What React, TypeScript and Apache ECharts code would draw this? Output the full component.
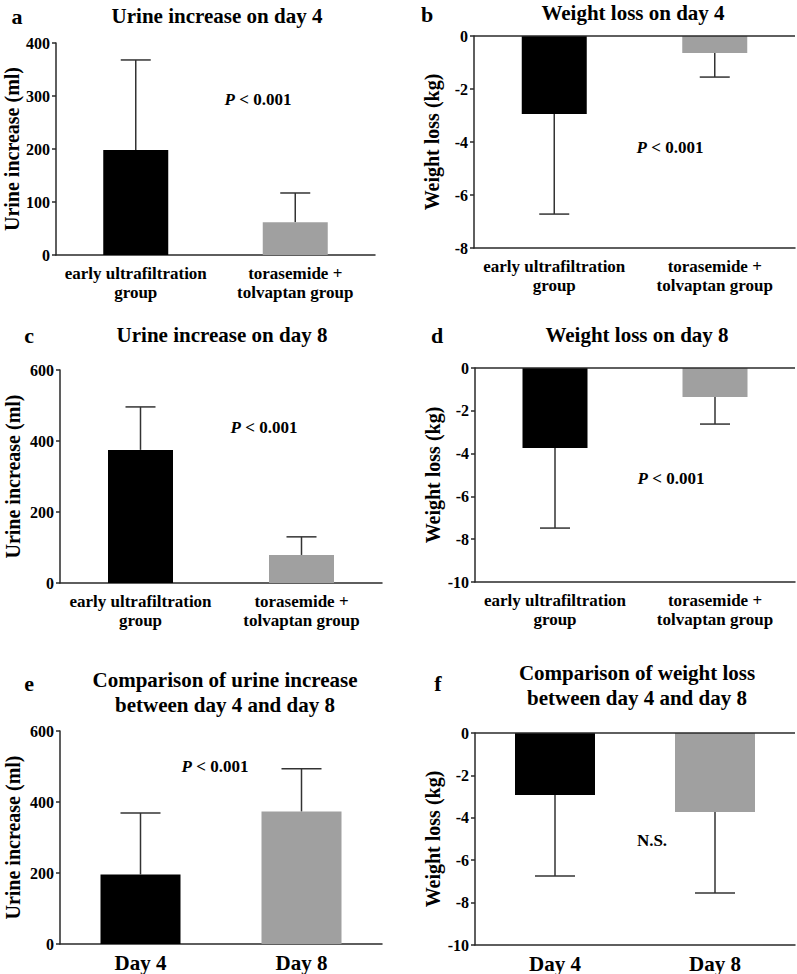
import React, { useEffect, useRef } from "react";
import * as echarts from "echarts";

// ---- data ----
const groupCats = ["early ultrafiltration\ngroup", "torasemide +\ntolvaptan group"];
const dayCats = ["Day 4", "Day 8"];

const urineDay4Mean = [198, 62];
const urineDay4Err = [368, 117];
const weightDay4Mean = [-2.94, -0.64];
const weightDay4Err = [-6.72, -1.55];
const urineDay8Mean = [375, 79];
const urineDay8Err = [496, 130];
const weightDay8Mean = [-3.74, -1.36];
const weightDay8Err = [-7.48, -2.62];
const urineCompMean = [196, 373];
const urineCompErr = [369, 494];
const weightCompMean = [-2.93, -3.73];
const weightCompErr = [-6.74, -7.55];

const barColors = ["#000000", "#a0a0a0"];

const panelTitles = [
  "Urine increase on day 4",
  "Weight loss on day 4",
  "Urine increase on day 8",
  "Weight loss on day 8",
  "Comparison of urine increase\nbetween day 4 and day 8",
  "Comparison of weight loss\nbetween day 4 and day 8",
];
const panelLetters = ["a", "b", "c", "d", "e", "f"];
const pLabels = ["P < 0.001", "P < 0.001", "P < 0.001", "P < 0.001", "P < 0.001", "N.S."];
const yNames = [
  "Urine increase (ml)",
  "Weight loss (kg)",
  "Urine increase (ml)",
  "Weight loss (kg)",
  "Urine increase (ml)",
  "Weight loss (kg)",
];

const FONT = "'Liberation Serif', 'Times New Roman', serif";
const AX = "#2a2a2a";

export default function App() {
  const ref = useRef<HTMLDivElement>(null);
  useEffect(() => {
    if (!ref.current) return;
    const chart = echarts.init(ref.current, null, { renderer: "svg" });

    const panels = [
      { cats: groupCats, mean: urineDay4Mean, err: urineDay4Err, min: 0, max: 400, interval: 100, neg: false, grid: { left: 56, width: 319, top: 43, height: 212 }, bw: 65, cap: 15, labelSize: 17, nameGap: 33 },
      { cats: groupCats, mean: weightDay4Mean, err: weightDay4Err, min: -8, max: 0, interval: 2, neg: true, grid: { left: 474, width: 321, top: 36, height: 212 }, bw: 65, cap: 15, labelSize: 17, nameGap: 32 },
      { cats: groupCats, mean: urineDay8Mean, err: urineDay8Err, min: 0, max: 600, interval: 200, neg: false, grid: { left: 60, width: 322, top: 370, height: 213 }, bw: 65, cap: 15, labelSize: 17, nameGap: 37 },
      { cats: groupCats, mean: weightDay8Mean, err: weightDay8Err, min: -10, max: 0, interval: 2, neg: true, grid: { left: 475, width: 320, top: 368, height: 214 }, bw: 65, cap: 15, labelSize: 17, nameGap: 32 },
      { cats: dayCats, mean: urineCompMean, err: urineCompErr, min: 0, max: 600, interval: 200, neg: false, grid: { left: 60, width: 322, top: 731, height: 213 }, bw: 80, cap: 20, labelSize: 21, nameGap: 37 },
      { cats: dayCats, mean: weightCompMean, err: weightCompErr, min: -10, max: 0, interval: 2, neg: true, grid: { left: 475, width: 320, top: 733, height: 212 }, bw: 80, cap: 20, labelSize: 21, nameGap: 32 },
    ];

    const grids: any[] = [];
    const xAxes: any[] = [];
    const yAxes: any[] = [];
    const series: any[] = [];

    panels.forEach((p, i) => {
      grids.push({ ...p.grid, containLabel: false });
      xAxes.push({
        type: "category",
        gridIndex: i,
        data: p.cats,
        position: "bottom",
        axisLine: { onZero: false, lineStyle: { color: AX, width: 1.5 } },
        axisTick: { alignWithLabel: true, length: 5, lineStyle: { color: AX, width: 1.5 } },
        axisLabel: {
          color: "#000",
          fontFamily: FONT,
          fontWeight: "bold",
          fontSize: p.labelSize,
          lineHeight: 19,
          margin: 9,
          interval: 0,
        },
      });
      yAxes.push({
        type: "value",
        gridIndex: i,
        min: p.min,
        max: p.max,
        interval: p.interval,
        name: yNames[i],
        nameLocation: "middle",
        nameGap: p.nameGap,
        nameTextStyle: { color: "#000", fontFamily: FONT, fontWeight: "bold", fontSize: 20 },
        splitLine: { show: false },
        axisLine: { show: true, lineStyle: { color: AX, width: 1.5 } },
        axisTick: { show: true, length: 4, lineStyle: { color: AX, width: 1.5 } },
        axisLabel: { color: "#000", fontFamily: FONT, fontWeight: "bold", fontSize: 16, margin: 6 },
      });
      series.push({
        type: "bar",
        xAxisIndex: i,
        yAxisIndex: i,
        barWidth: p.bw,
        data: p.mean.map((v, k) => ({ value: v, itemStyle: { color: barColors[k] } })),
        markLine: p.neg
          ? {
              silent: true,
              symbol: "none",
              label: { show: false },
              lineStyle: { color: AX, width: 1.5, type: "solid" },
              data: [{ yAxis: 0 }],
            }
          : undefined,
      });
      const cap = p.cap;
      series.push({
        type: "custom",
        xAxisIndex: i,
        yAxisIndex: i,
        data: p.mean.map((m, k) => [k, m, p.err[k]]),
        renderItem: (params: any, api: any) => {
          const x = api.value(0);
          const p0 = api.coord([x, api.value(1)]);
          const p1 = api.coord([x, api.value(2)]);
          const st = { stroke: "#333", lineWidth: 1.5 };
          return {
            type: "group",
            children: [
              { type: "line", shape: { x1: p0[0], y1: p0[1], x2: p1[0], y2: p1[1] }, style: st },
              { type: "line", shape: { x1: p1[0] - cap, y1: p1[1], x2: p1[0] + cap, y2: p1[1] }, style: st },
            ],
          };
        },
      });
    });

    const titlePos = [
      [217, 16],
      [633, 13],
      [222, 335],
      [637, 335],
      [225, 692],
      [637, 685],
    ];
    const letterPos = [
      [17, 16],
      [427, 14],
      [29, 335],
      [437, 335],
      [29, 683],
      [438, 683],
    ];
    const pPos = [
      [258, 99],
      [670, 147],
      [264, 427],
      [671, 478],
      [215, 766],
      [652, 840],
    ];

    const graphics: any[] = [];
    panels.forEach((_, i) => {
      graphics.push({
        type: "text",
        x: titlePos[i][0],
        y: titlePos[i][1],
        style: {
          text: panelTitles[i],
          font: `bold 21px ${FONT}`,
          fill: "#000",
          textAlign: "center",
          textVerticalAlign: "middle",
          lineHeight: 25,
        },
      });
      graphics.push({
        type: "text",
        x: letterPos[i][0],
        y: letterPos[i][1],
        style: {
          text: panelLetters[i],
          font: `bold 22px ${FONT}`,
          fill: "#000",
          textAlign: "center",
          textVerticalAlign: "middle",
        },
      });
      const isP = pLabels[i].startsWith("P");
      graphics.push({
        type: "text",
        x: pPos[i][0],
        y: pPos[i][1],
        style: {
          text: isP ? "{i|P} < 0.001" : pLabels[i],
          font: `bold 17px ${FONT}`,
          fill: "#000",
          textAlign: "center",
          textVerticalAlign: "middle",
          rich: {
            i: { fontStyle: "italic", fontWeight: "bold", fontSize: 17, fontFamily: FONT, fill: "#000" },
          },
        },
      });
    });

    chart.setOption({
      animation: false,
      backgroundColor: "#fff",
      grid: grids,
      xAxis: xAxes,
      yAxis: yAxes,
      series,
      graphic: graphics,
    });
    return () => chart.dispose();
  }, []);
  return (
    <div
      ref={ref}
      style={{ position: "absolute", left: 0, top: 0, width: 797, height: 974, background: "#fff" }}
    />
  );
}
